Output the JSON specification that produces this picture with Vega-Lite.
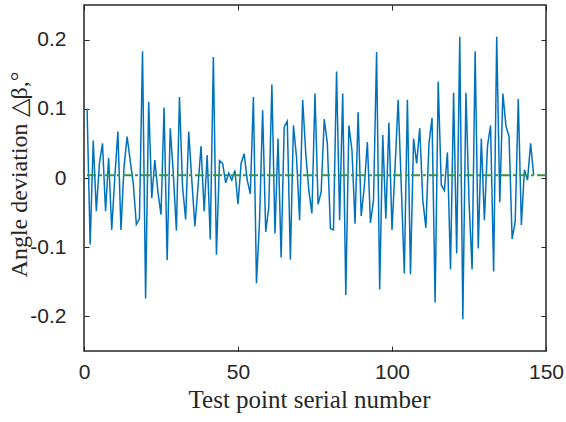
{
  "$schema": "https://vega.github.io/schema/vega-lite/v6.json",
  "width": 462,
  "height": 346,
  "autosize": "none",
  "padding": {"left": 84, "top": 5, "right": 20, "bottom": 71},
  "background": "white",
  "config": {
    "view": {"stroke": "#262626", "strokeWidth": 1.5},
    "axis": {
      "domain": false,
      "grid": false,
      "tickColor": "#262626",
      "tickSize": -5,
      "tickWidth": 1,
      "labelFont": "Liberation Sans",
      "labelFontSize": 21,
      "labelColor": "#262626",
      "labelFlush": false,
      "titleFont": "Liberation Serif",
      "titleFontWeight": "normal",
      "titleColor": "#262626"
    }
  },
  "datasets": {
    "dev": [
      {"n":1,"d":0.100},{"n":2,"d":-0.096},{"n":3,"d":0.054},{"n":4,"d":-0.048},{"n":5,"d":0.021},
      {"n":6,"d":0.050},{"n":7,"d":-0.048},{"n":8,"d":0.029},{"n":9,"d":-0.075},{"n":10,"d":0.001},
      {"n":11,"d":0.067},{"n":12,"d":-0.075},{"n":13,"d":0.016},{"n":14,"d":0.060},{"n":15,"d":0.025},
      {"n":16,"d":-0.008},{"n":17,"d":-0.067},{"n":18,"d":-0.059},{"n":19,"d":0.183},{"n":20,"d":-0.174},
      {"n":21,"d":0.110},{"n":22,"d":-0.029},{"n":23,"d":0.026},{"n":24,"d":-0.020},{"n":25,"d":-0.053},
      {"n":26,"d":0.102},{"n":27,"d":-0.119},{"n":28,"d":0.072},{"n":29,"d":0.006},{"n":30,"d":-0.076},
      {"n":31,"d":0.117},{"n":32,"d":-0.013},{"n":33,"d":-0.060},{"n":34,"d":0.067},{"n":35,"d":-0.003},
      {"n":36,"d":-0.070},{"n":37,"d":-0.013},{"n":38,"d":0.046},{"n":39,"d":-0.048},{"n":40,"d":0.033},
      {"n":41,"d":-0.089},{"n":42,"d":0.175},{"n":43,"d":-0.111},{"n":44,"d":0.025},{"n":45,"d":0.021},
      {"n":46,"d":-0.007},{"n":47,"d":0.007},{"n":48,"d":-0.003},{"n":49,"d":0.011},{"n":50,"d":-0.038},
      {"n":51,"d":0.021},{"n":52,"d":0.035},{"n":53,"d":-0.003},{"n":54,"d":-0.023},{"n":55,"d":0.117},
      {"n":56,"d":-0.152},{"n":57,"d":-0.061},{"n":58,"d":0.098},{"n":59,"d":-0.078},{"n":60,"d":-0.042},
      {"n":61,"d":0.135},{"n":62,"d":-0.080},{"n":63,"d":0.057},{"n":64,"d":-0.115},{"n":65,"d":0.074},
      {"n":66,"d":0.082},{"n":67,"d":-0.118},{"n":68,"d":0.076},{"n":69,"d":0.030},{"n":70,"d":-0.061},
      {"n":71,"d":0.113},{"n":72,"d":0.035},{"n":73,"d":-0.018},{"n":74,"d":-0.051},{"n":75,"d":0.122},
      {"n":76,"d":-0.038},{"n":77,"d":-0.020},{"n":78,"d":0.085},{"n":79,"d":0.050},{"n":80,"d":-0.073},
      {"n":81,"d":-0.075},{"n":82,"d":0.154},{"n":83,"d":-0.061},{"n":84,"d":0.122},{"n":85,"d":-0.169},
      {"n":86,"d":0.076},{"n":87,"d":0.040},{"n":88,"d":-0.066},{"n":89,"d":0.095},{"n":90,"d":-0.055},
      {"n":91,"d":-0.013},{"n":92,"d":0.052},{"n":93,"d":-0.065},{"n":94,"d":-0.032},{"n":95,"d":0.182},
      {"n":96,"d":-0.161},{"n":97,"d":0.062},{"n":98,"d":-0.059},{"n":99,"d":0.080},{"n":100,"d":-0.075},
      {"n":101,"d":0.016},{"n":102,"d":0.113},{"n":103,"d":-0.010},{"n":104,"d":-0.138},{"n":105,"d":0.113},
      {"n":106,"d":-0.139},{"n":107,"d":0.057},{"n":108,"d":0.021},{"n":109,"d":0.072},{"n":110,"d":-0.032},
      {"n":111,"d":-0.072},{"n":112,"d":0.050},{"n":113,"d":0.087},{"n":114,"d":-0.180},{"n":115,"d":0.139},
      {"n":116,"d":-0.010},{"n":117,"d":-0.018},{"n":118,"d":0.037},{"n":119,"d":-0.132},{"n":120,"d":0.123},
      {"n":121,"d":-0.109},{"n":122,"d":0.204},{"n":123,"d":-0.204},{"n":124,"d":0.123},{"n":125,"d":-0.032},
      {"n":126,"d":-0.132},{"n":127,"d":0.183},{"n":128,"d":-0.102},{"n":129,"d":0.057},{"n":130,"d":-0.061},
      {"n":131,"d":0.046},{"n":132,"d":0.076},{"n":133,"d":-0.135},{"n":134,"d":0.204},{"n":135,"d":-0.035},
      {"n":136,"d":0.122},{"n":137,"d":0.075},{"n":138,"d":0.060},{"n":139,"d":-0.088},{"n":140,"d":-0.063},
      {"n":141,"d":0.114},{"n":142,"d":-0.068},{"n":143,"d":0.012},{"n":144,"d":-0.003},{"n":145,"d":0.050},
      {"n":146,"d":0.004}
    ],
    "avg": [{"mean": 0.004}]
  },
  "resolve": {"axis": {"x": "independent", "y": "independent"}},
  "layer": [
    {
      "data": {"name": "dev"},
      "mark": {"type": "line", "color": "#0072BD", "strokeWidth": 1.5},
      "encoding": {
        "x": {
          "field": "n", "type": "quantitative",
          "scale": {"domain": [0, 150], "nice": false, "zero": false},
          "axis": {
            "orient": "bottom", "values": [0, 50, 100, 150],
            "labelPadding": 15,
            "title": "Test point serial number",
            "titleFontSize": 25,
            "titleX": 225, "titleY": 56, "titleBaseline": "alphabetic", "titleAlign": "center"
          }
        },
        "y": {
          "field": "d", "type": "quantitative",
          "scale": {"domain": [-0.25, 0.25], "nice": false, "zero": false},
          "axis": {
            "orient": "left", "values": [-0.2, -0.1, 0, 0.1, 0.2],
            "labelExpr": "'' + datum.value",
            "labelPadding": 23,
            "title": "Angle deviation △β,°",
            "titleFontSize": 24,
            "titleX": -58, "titleY": 169, "titleBaseline": "alphabetic", "titleAlign": "center", "titleAngle": 270
          }
        }
      }
    },
    {
      "data": {"name": "dev"},
      "mark": {"type": "line", "strokeOpacity": 0},
      "encoding": {
        "x": {
          "field": "n", "type": "quantitative",
          "scale": {"domain": [0, 150], "nice": false, "zero": false},
          "axis": {"orient": "top", "values": [0, 50, 100, 150], "labels": false, "title": null}
        },
        "y": {
          "field": "d", "type": "quantitative",
          "scale": {"domain": [-0.25, 0.25], "nice": false, "zero": false},
          "axis": {"orient": "right", "values": [-0.2, -0.1, 0, 0.1, 0.2], "labels": false, "title": null}
        }
      }
    },
    {
      "data": {"name": "avg"},
      "mark": {"type": "rule", "color": "#2f9a38", "strokeWidth": 2, "strokeDash": [9, 3, 3, 3]},
      "encoding": {
        "y": {"field": "mean", "type": "quantitative", "axis": null}
      }
    }
  ]
}
